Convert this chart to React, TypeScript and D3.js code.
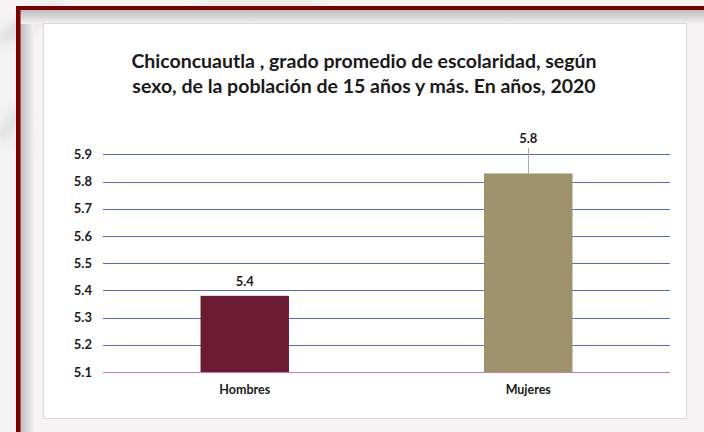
import React from "react";
import * as d3 from "d3";

const categories = ["Hombres", "Mujeres"];
const values = [5.38, 5.83];
const valueLabels = ["5.4", "5.8"];
const yTicks = [5.1, 5.2, 5.3, 5.4, 5.5, 5.6, 5.7, 5.8, 5.9];
const barColors = ["#6b1c33", "#9f916b"];
const titleLines = [
  "Chiconcuautla , grado promedio de escolaridad, según",
  "sexo, de la población de 15 años y más. En años, 2020",
];

const W = 704;
const H = 432;
const FONT = "Lato, 'Open Sans', sans-serif";

export default function App() {
  const x = d3.scaleBand<string>().domain(categories).range([103, 670]).padding(0);
  const y = d3.scaleLinear().domain([5.1, 5.9]).range([372, 154.4]);
  const barW = x.bandwidth() * 0.312;

  return (
    <svg
      width={W}
      height={H}
      style={{ position: "absolute", left: 0, top: 0, display: "block" }}
      viewBox={`0 0 ${W} ${H}`}
    >
      <defs>
        <linearGradient id="leftShade" x1="0" x2="1" y1="0" y2="0">
          <stop offset="0" stopColor="#bdbbbb" />
          <stop offset="1" stopColor="#f4f2f2" />
        </linearGradient>
        <linearGradient id="topShade" x1="0" x2="0" y1="0" y2="1">
          <stop offset="0" stopColor="#bdbbbb" />
          <stop offset="1" stopColor="#f4f2f2" />
        </linearGradient>
        <filter id="blur" x="-50%" y="-50%" width="200%" height="200%">
          <feGaussianBlur stdDeviation="6" />
        </filter>
      </defs>
      {/* page background */}
      <rect x={0} y={0} width={W} height={H} fill="#f5f3f3" />
      <g filter="url(#blur)" opacity={0.5}>
        <path d="M0,40 L30,20 L60,10" stroke="#b8b8b8" strokeWidth={10} fill="none" />
        <path d="M0,140 L20,110" stroke="#c0c0c0" strokeWidth={10} fill="none" />
        <path d="M30,140 L20,150" stroke="#c8c8c8" strokeWidth={8} fill="none" />
        <path d="M200,5 L320,5" stroke="#c8c8c8" strokeWidth={6} fill="none" />
      </g>
      {/* inner shading next to frame */}
      <rect x={20} y={10} width={14} height={H - 10} fill="url(#leftShade)" />
      <rect x={20} y={10} width={W - 20} height={14} fill="url(#topShade)" />
      {/* dark red frame */}
      <rect x={16} y={6} width={W} height={4} fill="#780000" />
      <rect x={16} y={6} width={4.5} height={H} fill="#780000" />
      {/* white chart panel */}
      <rect x={43.5} y={23.5} width={643} height={395} fill="#ffffff" stroke="#d9d9d9" strokeWidth={1} />

      {/* title */}
      <g fontFamily={FONT} fontWeight="bold" fontSize={19.5} fill="#1a1a1a" textAnchor="middle">
        {titleLines.map((t, i) => (
          <text key={i} x={364} y={67.5 + i * 25.5}>
            {t}
          </text>
        ))}
      </g>

      {/* gridlines */}
      {yTicks.map((t) => (
        <line
          key={t}
          x1={103}
          x2={670}
          y1={Math.round(y(t)) + 0.5}
          y2={Math.round(y(t)) + 0.5}
          stroke={t === 5.1 ? "#d97a98" : "#5568c4"}
          strokeWidth={1}
        />
      ))}
      {/* y tick labels */}
      <g fontFamily={FONT} fontWeight="bold" fontSize={13} fill="#1a1a1a" textAnchor="end">
        {yTicks.map((t) => (
          <text key={t} x={92} y={y(t)} dy="0.35em">
            {t.toFixed(1)}
          </text>
        ))}
      </g>

      {/* bars */}
      {categories.map((c, i) => {
        const cx = (x(c) as number) + x.bandwidth() / 2;
        return (
          <rect
            key={c}
            x={cx - barW / 2}
            y={y(values[i])}
            width={barW}
            height={y(5.1) - y(values[i])}
            fill={barColors[i]}
          />
        );
      })}

      {/* leader line for Mujeres label */}
      {(() => {
        const cx = (x(categories[1]) as number) + x.bandwidth() / 2;
        return (
          <line
            x1={Math.round(cx) + 0.5}
            x2={Math.round(cx) + 0.5}
            y1={148}
            y2={y(values[1])}
            stroke="#aaaaaa"
            strokeWidth={1}
          />
        );
      })()}

      {/* value labels */}
      <g fontFamily={FONT} fontWeight="bold" fontSize={13} fill="#1a1a1a" textAnchor="middle">
        {categories.map((c, i) => {
          const cx = (x(c) as number) + x.bandwidth() / 2;
          const ly = i === 0 ? y(values[i]) - 10 : 143;
          return (
            <text key={c} x={cx} y={ly}>
              {valueLabels[i]}
            </text>
          );
        })}
      </g>

      {/* category labels */}
      <g fontFamily={FONT} fontWeight="bold" fontSize={12.5} fill="#1a1a1a" textAnchor="middle">
        {categories.map((c) => (
          <text key={c} x={(x(c) as number) + x.bandwidth() / 2} y={394}>
            {c}
          </text>
        ))}
      </g>
    </svg>
  );
}
